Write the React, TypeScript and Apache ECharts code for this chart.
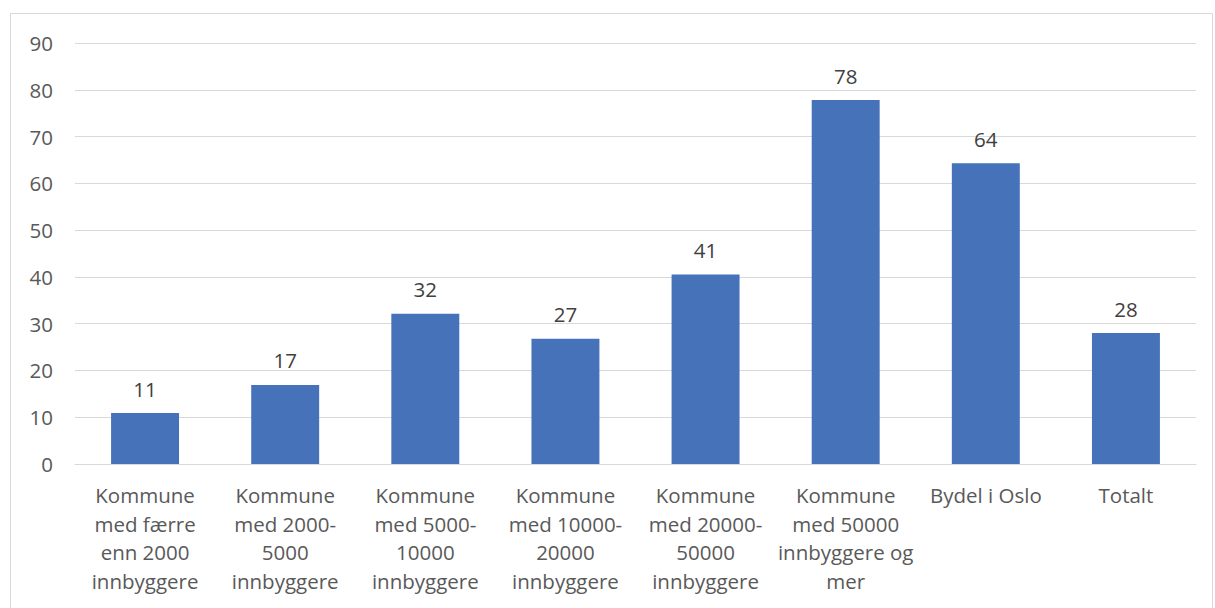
import React, { useEffect, useRef } from "react";
import * as echarts from "echarts";

const categories = [
  "Kommune\nmed færre\nenn 2000\ninnbyggere",
  "Kommune\nmed 2000-\n5000\ninnbyggere",
  "Kommune\nmed 5000-\n10000\ninnbyggere",
  "Kommune\nmed 10000-\n20000\ninnbyggere",
  "Kommune\nmed 20000-\n50000\ninnbyggere",
  "Kommune\nmed 50000\ninnbyggere og\nmer",
  "Bydel i Oslo",
  "Totalt",
];
const values = [10.9, 16.9, 32.1, 26.8, 40.5, 77.8, 64.3, 28.0];
const yMin = 0;
const yMax = 90;
const yStep = 10;

const FONT = "'Open Sans', sans-serif";

export default function App() {
  const ref = useRef<HTMLDivElement>(null);
  useEffect(() => {
    if (!ref.current) return;
    const chart = echarts.init(ref.current, undefined, { renderer: "svg" });
    chart.setOption({
      animation: false,
      backgroundColor: "#ffffff",
      textStyle: { fontFamily: FONT },
      graphic: [
        {
          type: "rect",
          shape: { x: 10.5, y: 13.5, width: 1202, height: 640 },
          style: { fill: "none", stroke: "#d9d9d9", lineWidth: 1 },
          silent: true,
        },
      ],
      grid: { left: 75, right: 19, top: 43, bottom: 144, containLabel: false },
      xAxis: {
        type: "category",
        data: categories,
        axisLine: { show: true, lineStyle: { color: "#d9d9d9", width: 1 } },
        axisTick: { show: false },
        axisLabel: {
          interval: 0,
          color: "#595959",
          fontSize: 20.5,
          lineHeight: 28.5,
          margin: 17,
          fontFamily: FONT,
        },
      },
      yAxis: {
        type: "value",
        min: yMin,
        max: yMax,
        interval: yStep,
        axisLine: { show: false },
        axisTick: { show: false },
        splitLine: { lineStyle: { color: "#d9d9d9", width: 1 } },
        axisLabel: { color: "#595959", fontSize: 20.5, margin: 22, fontFamily: FONT },
      },
      series: [
        {
          type: "bar",
          data: values,
          barWidth: "48.5%",
          itemStyle: { color: "#4672b9" },
          label: {
            show: true,
            position: "top",
            distance: 14,
            color: "#404040",
            fontSize: 20.5,
            fontFamily: FONT,
            formatter: (p: any) => String(Math.round(p.value)),
          },
        },
      ],
    });
    return () => chart.dispose();
  }, []);
  return (
    <div
      ref={ref}
      style={{ position: "fixed", left: 0, top: 0, width: 1215, height: 608 }}
    />
  );
}
